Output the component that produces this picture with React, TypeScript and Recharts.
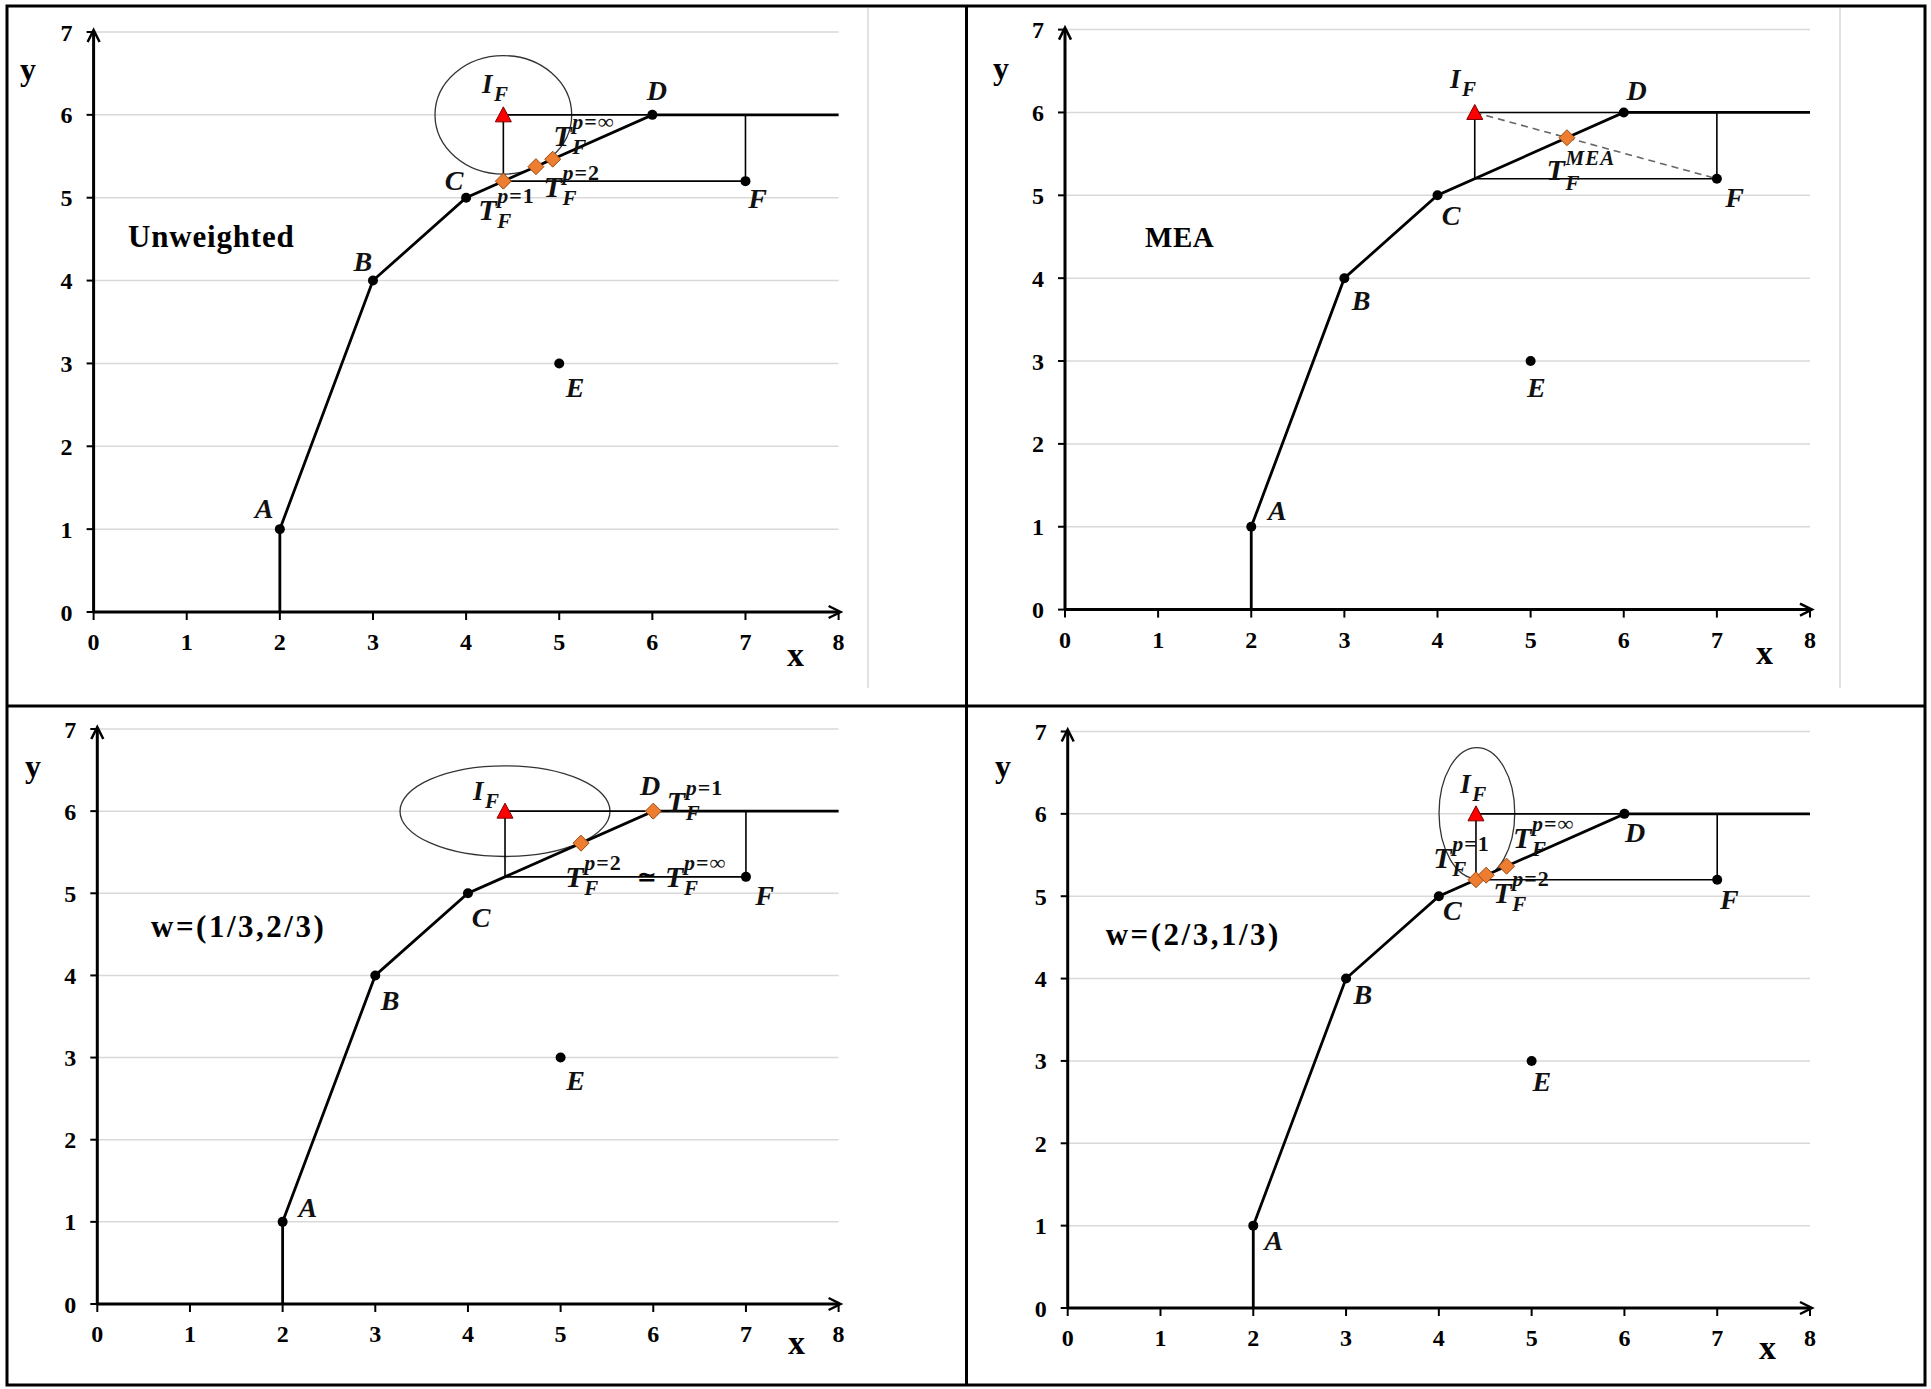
import React from 'react';
import {
  ScatterChart, Scatter, XAxis, YAxis, CartesianGrid, ReferenceArea, ReferenceDot,
} from 'recharts';

const SERIF = '"Liberation Serif", "Times New Roman", serif';
const MATH = '"DejaVu Serif", "Liberation Serif", serif';

const X_TICKS = [0, 1, 2, 3, 4, 5, 6, 7, 8];
const Y_TICKS = [0, 1, 2, 3, 4, 5, 6, 7];

// piecewise-linear frontier through A, B, C, D
const FRONTIER = [
  { x: 2, y: 0 }, { x: 2, y: 1 }, { x: 3, y: 4 }, { x: 4, y: 5 }, { x: 6, y: 6 }, { x: 8, y: 6 },
];
const DMUS = [
  { name: 'A', x: 2, y: 1 }, { name: 'B', x: 3, y: 4 }, { name: 'C', x: 4, y: 5 },
  { name: 'D', x: 6, y: 6 }, { name: 'E', x: 5, y: 3 }, { name: 'F', x: 7, y: 5.2 },
];
const IDEAL = [{ x: 4.4, y: 6 }];
const BOX = [{ x: 4.4, y: 6 }, { x: 4.4, y: 5.2 }, { x: 7, y: 5.2 }, { x: 7, y: 6 }, { x: 4.4, y: 6 }];
const MEA_RAY = [{ x: 4.4, y: 6 }, { x: 7, y: 5.2 }];

const TARGETS_UNW = [{ x: 4.4, y: 5.2 }, { x: 4.75, y: 5.375 }, { x: 4.93, y: 5.465 }];
const TARGETS_MEA = [{ x: 5.39, y: 5.695 }];
const TARGETS_W13 = [{ x: 6, y: 6 }, { x: 5.22, y: 5.61 }];
const TARGETS_W23 = [{ x: 4.4, y: 5.2 }, { x: 4.51, y: 5.255 }, { x: 4.73, y: 5.365 }];

const BALL_UNW = { cx: 4.4, cy: 6, rx: 0.734, ry: 0.715 };
const BALL_W13 = { cx: 4.4, cy: 6, rx: 1.133, ry: 0.552 };
const BALL_W23 = { cx: 4.41, cy: 6.01, rx: 0.408, ry: 0.795 };

// annotation anchors (data units, left/baseline of text)
const LABELS_UNW = [
  { x: 4.17, y: 6.26, main: 'I', sub: 'F' },
  { x: 5.94, y: 6.18, main: 'D' },
  { x: 3.77, y: 5.09, main: 'C' },
  { x: 2.79, y: 4.12, main: 'B' },
  { x: 1.73, y: 1.14, main: 'A' },
  { x: 5.07, y: 2.6, main: 'E' },
  { x: 7.03, y: 4.87, main: 'F' },
  { x: 4.13, y: 4.73, main: 'T', sub: 'F', sup: 'p=1' },
  { x: 4.83, y: 5.01, main: 'T', sub: 'F', sup: 'p=2' },
  { x: 4.935, y: 5.63, main: 'T', sub: 'F', sup: 'p=∞' },
  { x: 0.37, y: 4.4, main: 'Unweighted', kind: 'title' },
];
const LABELS_MEA = [
  { x: 4.135, y: 6.295, main: 'I', sub: 'F' },
  { x: 6.03, y: 6.15, main: 'D' },
  { x: 4.045, y: 4.64, main: 'C' },
  { x: 3.08, y: 3.61, main: 'B' },
  { x: 2.18, y: 1.08, main: 'A' },
  { x: 4.96, y: 2.56, main: 'E' },
  { x: 7.09, y: 4.86, main: 'F' },
  { x: 5.17, y: 5.185, main: 'T', sub: 'F', sup: 'MEA' },
  { x: 0.86, y: 4.376, main: 'MEA', kind: 'title' },
];
const LABELS_W13 = [
  { x: 4.055, y: 6.135, main: 'I', sub: 'F' },
  { x: 5.857, y: 6.2, main: 'D' },
  { x: 4.04, y: 4.59, main: 'C' },
  { x: 3.06, y: 3.58, main: 'B' },
  { x: 2.17, y: 1.06, main: 'A' },
  { x: 5.06, y: 2.61, main: 'E' },
  { x: 7.1, y: 4.86, main: 'F' },
  { x: 6.145, y: 5.99, main: 'T', sub: 'F', sup: 'p=1' },
  { x: 5.05, y: 5.08, main: 'T', sub: 'F', sup: 'p=2' },
  { x: 5.82, y: 5.1, main: '≃', kind: 'sym' },
  { x: 6.127, y: 5.08, main: 'T', sub: 'F', sup: 'p=∞' },
  { x: 0.58, y: 4.47, main: 'w=(1/3,2/3)', kind: 'title' },
];
const LABELS_W23 = [
  { x: 4.23, y: 6.25, main: 'I', sub: 'F' },
  { x: 6.005, y: 5.66, main: 'D' },
  { x: 4.045, y: 4.71, main: 'C' },
  { x: 3.08, y: 3.69, main: 'B' },
  { x: 2.12, y: 0.7, main: 'A' },
  { x: 5.01, y: 2.63, main: 'E' },
  { x: 7.03, y: 4.84, main: 'F' },
  { x: 4.8, y: 5.58, main: 'T', sub: 'F', sup: 'p=∞' },
  { x: 3.94, y: 5.34, main: 'T', sub: 'F', sup: 'p=1' },
  { x: 4.585, y: 4.92, main: 'T', sub: 'F', sup: 'p=2' },
  { x: 0.41, y: 4.41, main: 'w=(2/3,1/3)', kind: 'title' },
];

// title text styles
const TITLE_STYLE: Record<string, { size: number; spacing: number }> = {
  Unweighted: { size: 31, spacing: 0.8 },
  MEA: { size: 29, spacing: 0.5 },
  'w=(1/3,2/3)': { size: 31, spacing: 2.5 },
  'w=(2/3,1/3)': { size: 31, spacing: 2.5 },
};

const none = () => <g />;

const dot = (p: any) => <circle cx={p.cx} cy={p.cy} r={5} fill="#000" />;

const triangle = (p: any) => (
  <polygon
    points={`${p.cx},${p.cy - 8} ${p.cx - 8},${p.cy + 7} ${p.cx + 8},${p.cy + 7}`}
    fill="#ff0000" stroke="#7a0000" strokeWidth={1}
  />
);

const diamond = (p: any) => (
  <polygon
    points={`${p.cx},${p.cy - 8} ${p.cx + 8},${p.cy} ${p.cx},${p.cy + 8} ${p.cx - 8},${p.cy}`}
    fill="#ed7d31" stroke="#9c4a12" strokeWidth={1}
  />
);

const renderLabel = (p: any) => {
  const { cx, cy, payload } = p;
  if (cx == null || cy == null) return <g />;
  const kind = payload.kind || 'pt';
  if (kind === 'title') {
    const st = TITLE_STYLE[payload.main] || { size: 29, spacing: 0 };
    return (
      <text x={cx} y={cy} fontFamily={SERIF} fontWeight="bold" fontSize={st.size} letterSpacing={st.spacing} fill="#000">
        {payload.main}
      </text>
    );
  }
  if (kind === 'sym') {
    return (
      <text x={cx} y={cy} fontFamily={MATH} fontWeight="bold" fontSize={24} fill="#000">
        {payload.main}
      </text>
    );
  }
  const isT = payload.main === 'T';
  const isI = payload.main === 'I';
  const size = isT ? 30 : isI ? 27 : 28;
  const w = isT ? 19 : isI ? 12 : 0;
  const sup: string | undefined = payload.sup;
  const isMea = sup === 'MEA';
  const supDy = isMea ? -15 : -17;
  const subDy = isMea ? 10 : 8;
  return (
    <g>
      <text x={cx} y={cy} fontFamily={SERIF} fontStyle="italic" fontWeight="bold" fontSize={size} fill="#111">
        {payload.main}
      </text>
      {sup && (
        <text x={cx + w} y={cy + supDy} fontFamily={SERIF} fontWeight="bold" fontSize={isMea ? 21 : 22} fill="#111" letterSpacing={1}>
          {sup.startsWith('p') ? (
            <>
              <tspan fontStyle="italic">p</tspan>
              <tspan>{sup.slice(1)}</tspan>
            </>
          ) : (
            <tspan fontStyle="italic">{sup}</tspan>
          )}
        </text>
      )}
      {payload.sub && (
        <text x={cx + w} y={cy + subDy} fontFamily={SERIF} fontStyle="italic" fontWeight="bold" fontSize={21} fill="#111">
          {payload.sub}
        </text>
      )}
    </g>
  );
};

const arrowRight = (p: any) => (
  <path d={`M${p.cx - 10},${p.cy - 6} L${p.cx + 2},${p.cy} L${p.cx - 10},${p.cy + 6}`} stroke="#000" strokeWidth={2.5} fill="none" />
);
const arrowUp = (p: any) => (
  <path d={`M${p.cx - 6},${p.cy + 10} L${p.cx},${p.cy - 2} L${p.cx + 6},${p.cy + 10}`} stroke="#000" strokeWidth={2.5} fill="none" />
);

const tickStyle = { fill: '#000', fontFamily: SERIF, fontWeight: 'bold', fontSize: 24 };

const W = 950;
const H = 670;

function Panel(props: any) {
  const { ox, oy, x0, x8, y0, y7, targets, labels, ball, mea } = props;
  const margin = {
    top: y7 - oy,
    left: x0 - ox - 50,
    right: ox + W - x8,
    bottom: oy + H - y0 - 30,
  };
  return (
    <div style={{ position: 'absolute', left: ox, top: oy, width: W, height: H }}>
      <ScatterChart width={W} height={H} margin={margin}>
        <CartesianGrid vertical={false} stroke="#d9d9d9" strokeWidth={1.5} />
        <XAxis
          type="number" dataKey="x" domain={[0, 8]} ticks={X_TICKS} interval={0}
          axisLine={{ stroke: '#000', strokeWidth: 3 }} tickLine={{ stroke: '#000', strokeWidth: 2 }}
          tickSize={8} tickMargin={13} height={30} tick={tickStyle}
        />
        <YAxis
          type="number" dataKey="y" domain={[0, 7]} ticks={Y_TICKS} interval={0}
          axisLine={{ stroke: '#000', strokeWidth: 3 }} tickLine={{ stroke: '#000', strokeWidth: 2 }}
          tickSize={7} tickMargin={14} width={50} tick={tickStyle}
        />
        {ball && (
          <ReferenceArea
            x1={ball.cx - ball.rx} x2={ball.cx + ball.rx} y1={ball.cy - ball.ry} y2={ball.cy + ball.ry}
            ifOverflow="visible"
            shape={(s: any) => (
              <ellipse
                cx={s.x + s.width / 2} cy={s.y + s.height / 2} rx={Math.abs(s.width) / 2} ry={Math.abs(s.height) / 2}
                fill="none" stroke="#333" strokeWidth={1.3}
              />
            )}
          />
        )}
        <Scatter data={BOX} dataKey="y" line={{ stroke: '#000', strokeWidth: 1.6 }} shape={none} isAnimationActive={false} />
        {mea && (
          <Scatter
            data={MEA_RAY} dataKey="y" line={{ stroke: '#666', strokeWidth: 1.6, strokeDasharray: '7 5' }}
            shape={none} isAnimationActive={false}
          />
        )}
        <Scatter data={FRONTIER} dataKey="y" line={{ stroke: '#000', strokeWidth: 2.8 }} shape={none} isAnimationActive={false} />
        <Scatter data={DMUS} dataKey="y" shape={dot} isAnimationActive={false} />
        <Scatter data={IDEAL} dataKey="y" shape={triangle} isAnimationActive={false} />
        <Scatter data={targets} dataKey="y" shape={diamond} isAnimationActive={false} />
        <Scatter data={labels} dataKey="y" shape={renderLabel} isAnimationActive={false} />
        <ReferenceDot x={8} y={0} r={1} ifOverflow="visible" shape={arrowRight} />
        <ReferenceDot x={0} y={7} r={1} ifOverflow="visible" shape={arrowUp} />
      </ScatterChart>
    </div>
  );
}

export default function App() {
  const axisTitle = { fontFamily: SERIF, fontWeight: 'bold' as const, fill: '#000' };
  return (
    <div style={{ position: 'absolute', left: 0, top: 0, width: 1931, height: 1389, background: '#fff', overflow: 'hidden' }}>
      <Panel ox={8} oy={8} x0={93.6} x8={838.6} y0={612} y7={32}
        targets={TARGETS_UNW} labels={LABELS_UNW} ball={BALL_UNW} />
      <Panel ox={970} oy={8} x0={1065} x8={1810} y0={609.6} y7={29.6}
        targets={TARGETS_MEA} labels={LABELS_MEA} mea />
      <Panel ox={8} oy={712} x0={97.3} x8={838.6} y0={1304} y7={729}
        targets={TARGETS_W13} labels={LABELS_W13} ball={BALL_W13} />
      <Panel ox={970} oy={712} x0={1067.7} x8={1810} y0={1308} y7={731.5}
        targets={TARGETS_W23} labels={LABELS_W23} ball={BALL_W23} />
      <svg width={1931} height={1389} style={{ position: 'absolute', left: 0, top: 0, pointerEvents: 'none' }}>
        <line x1={868} y1={8} x2={868} y2={688} stroke="#d9d9d9" strokeWidth={1.5} />
        <line x1={1840} y1={8} x2={1840} y2={688} stroke="#d9d9d9" strokeWidth={1.5} />
        <rect x={7} y={6} width={1918} height={1379} fill="none" stroke="#000" strokeWidth={3} />
        <line x1={966.5} y1={6} x2={966.5} y2={1385} stroke="#000" strokeWidth={3} />
        <line x1={7} y1={706} x2={1925} y2={706} stroke="#000" strokeWidth={3} />
        <text x={20} y={80} fontSize={32} {...axisTitle}>y</text>
        <text x={787} y={666} fontSize={34} {...axisTitle}>x</text>
        <text x={993} y={79} fontSize={32} {...axisTitle}>y</text>
        <text x={1756} y={664} fontSize={34} {...axisTitle}>x</text>
        <text x={25} y={777} fontSize={32} {...axisTitle}>y</text>
        <text x={788} y={1354} fontSize={34} {...axisTitle}>x</text>
        <text x={995} y={777} fontSize={32} {...axisTitle}>y</text>
        <text x={1759} y={1359} fontSize={34} {...axisTitle}>x</text>
      </svg>
    </div>
  );
}
